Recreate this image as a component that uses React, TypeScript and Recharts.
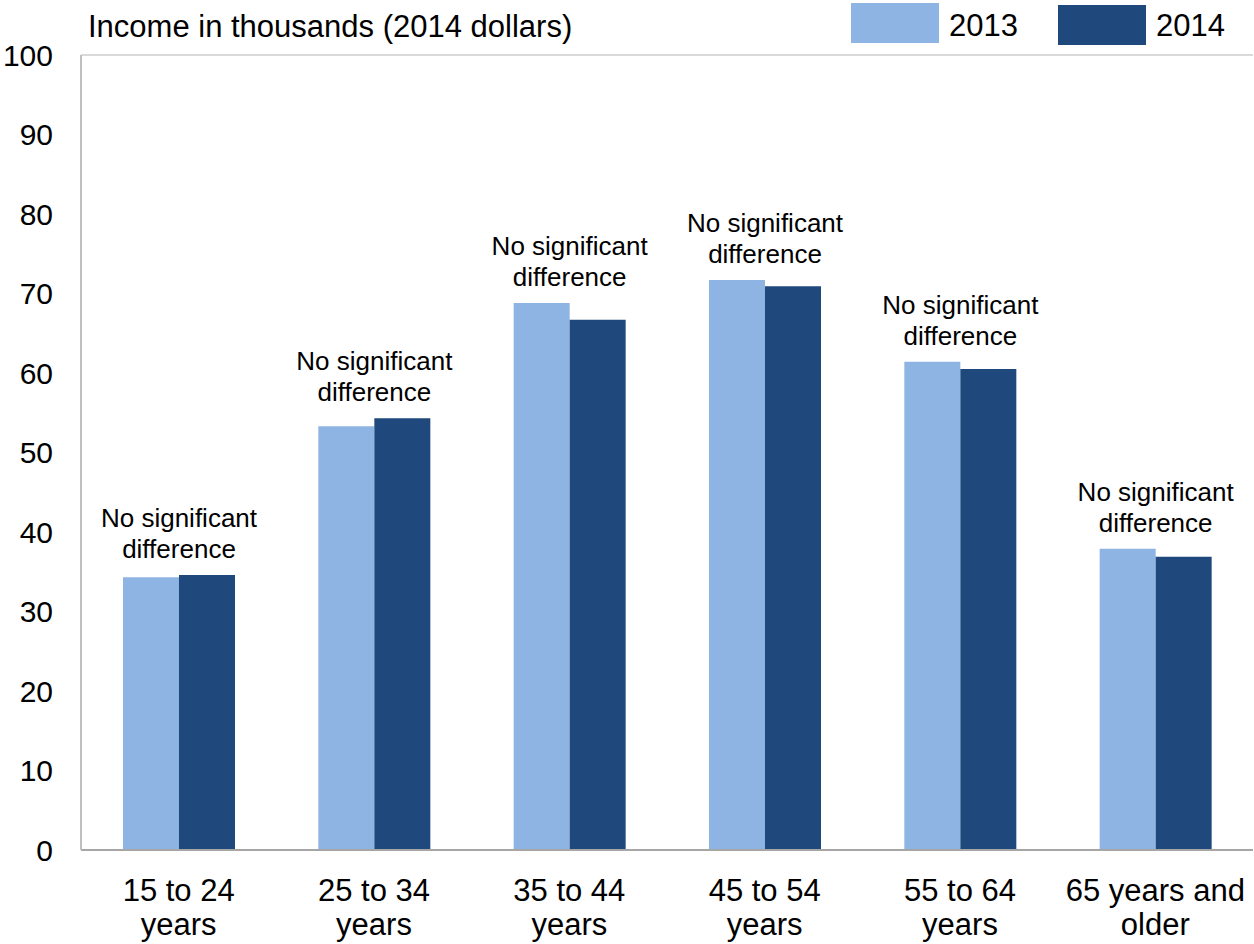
import { BarChart, Bar, XAxis, YAxis, CartesianGrid, LabelList } from 'recharts';

const categories = [
  '15 to 24\nyears',
  '25 to 34\nyears',
  '35 to 44\nyears',
  '45 to 54\nyears',
  '55 to 64\nyears',
  '65 years and\nolder',
];
const income2013 = [34.3, 53.3, 68.8, 71.7, 61.4, 37.9];
const income2014 = [34.6, 54.3, 66.7, 70.9, 60.5, 36.9];
const notes = [
  'No significant\ndifference',
  'No significant\ndifference',
  'No significant\ndifference',
  'No significant\ndifference',
  'No significant\ndifference',
  'No significant\ndifference',
];
const yTicks = [0, 10, 20, 30, 40, 50, 60, 70, 80, 90, 100];

const FONT = '"Liberation Sans", Arial, sans-serif';
const C2013 = '#8EB4E3';
const C2014 = '#1F497D';

const data = categories.map((c, i) => ({
  name: c,
  y2013: income2013[i],
  y2014: income2014[i],
  note: notes[i],
}));

function CategoryTick(props: any) {
  const { x, y, payload } = props;
  const lines = String(payload.value).split('\n');
  return (
    <text x={x} y={y} textAnchor="middle" fontSize={31} fontFamily={FONT} fill="#000">
      {lines.map((l, i) => (
        <tspan key={i} x={x} y={y + 49 + i * 34}>
          {l}
        </tspan>
      ))}
    </text>
  );
}

// note sits above the taller bar of the group, centred on the group
function NoteLabel(props: any) {
  const { x, y, height, value, index } = props;
  const v2014 = income2014[index];
  const top = Math.max(income2013[index], v2014);
  const pxPerUnit = height / v2014;
  const topY = y + height - top * pxPerUnit;
  const lines = String(value).split('\n');
  const base = topY - 17;
  return (
    <text x={x} y={base} textAnchor="middle" fontSize={26} fontFamily={FONT} fill="#000">
      {lines.map((l, i) => (
        <tspan key={i} x={x} y={base - (lines.length - 1 - i) * 31}>
          {l}
        </tspan>
      ))}
    </text>
  );
}

function LegendBox() {
  const item = (color: string, label: string, mt: number) => (
    <div style={{ display: 'flex', alignItems: 'center' }}>
      <div style={{ width: 88, height: 40, background: color, marginTop: mt }} />
      <span style={{ fontSize: 31, fontFamily: FONT, color: '#000', marginLeft: 10, marginTop: 6 }}>
        {label}
      </span>
    </div>
  );
  return (
    <div style={{ position: 'absolute', left: 851, top: 1, display: 'flex', gap: 40, zIndex: 2 }}>
      {item(C2013, '2013', 0)}
      {item(C2014, '2014', 4)}
    </div>
  );
}

export default function App() {
  return (
    <div style={{ position: 'absolute', left: 0, top: 0, width: 1254, height: 944, background: '#fff' }}>
      <div
        style={{
          position: 'absolute',
          left: 88,
          top: 11,
          fontSize: 31,
          lineHeight: '31px',
          fontFamily: FONT,
          color: '#000',
          zIndex: 2,
        }}
      >
        Income in thousands (2014 dollars)
      </div>
      <LegendBox />
      <BarChart
        width={1254}
        height={944}
        data={data}
        margin={{ top: 55, right: 1, left: 0, bottom: 0 }}
        barCategoryGap="21.5%"
        barGap={0}
      >
        <CartesianGrid vertical={false} stroke="#D9D9D9" strokeWidth={2} />
        <XAxis
          dataKey="name"
          interval={0}
          height={94}
          tickSize={0}
          tickLine={false}
          axisLine={{ stroke: '#A6A6A6', strokeWidth: 2 }}
          tick={<CategoryTick />}
        />
        <YAxis
          yAxisId="left"
          domain={[0, 100]}
          ticks={yTicks}
          width={81}
          tickSize={0}
          tickMargin={28}
          tickLine={false}
          axisLine={{ stroke: '#BFBFBF', strokeWidth: 2 }}
          tick={{ fontSize: 30, fontFamily: FONT, fill: '#000' }}
        />
        <YAxis
          yAxisId="right"
          orientation="right"
          domain={[0, 100]}
          width={0}
          tick={false}
          tickLine={false}
          axisLine={{ stroke: '#BFBFBF', strokeWidth: 2 }}
        />
        <Bar yAxisId="left" dataKey="y2013" name="2013" fill={C2013} isAnimationActive={false} />
        <Bar yAxisId="left" dataKey="y2014" name="2014" fill={C2014} isAnimationActive={false}>
          <LabelList dataKey="note" content={<NoteLabel />} />
        </Bar>
      </BarChart>
    </div>
  );
}
